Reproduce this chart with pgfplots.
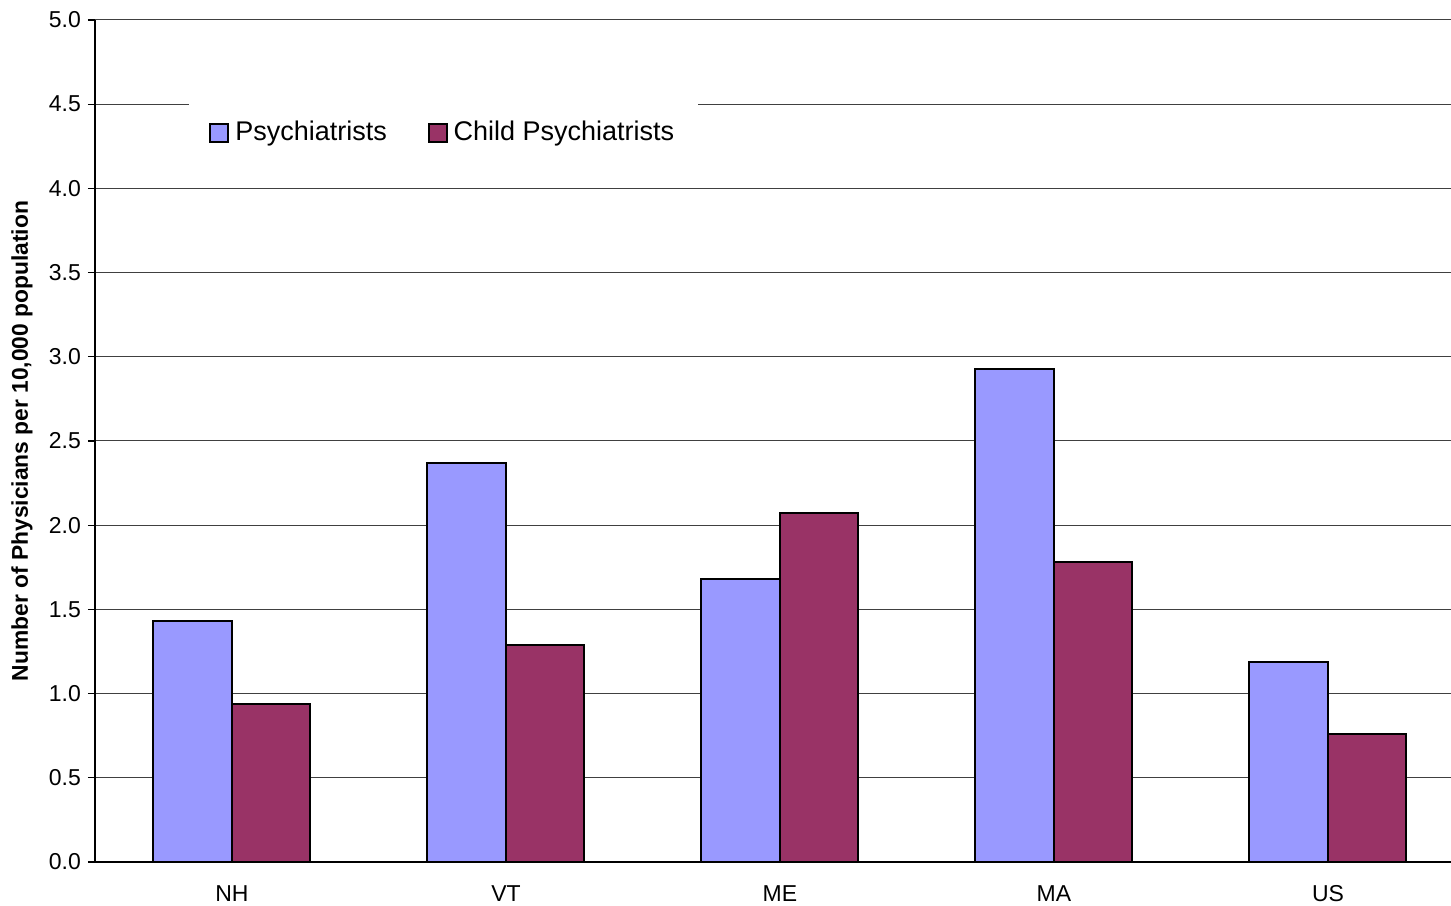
\documentclass[border=0pt]{standalone}
\usepackage{pgfplots}
\pgfplotsset{compat=1.18}
\usepackage{fontspec}
\setmainfont{Liberation Sans}
\definecolor{psych}{HTML}{9999FF}
\definecolor{child}{HTML}{993366}
\begin{document}
\begin{tikzpicture}
\begin{axis}[
  scale only axis,
  width=678pt, height=421pt,
  xmin=-0.5, xmax=4.449,
  ymin=0, ymax=5,
  ytick={0,0.5,...,5},
  xtick={0,1,2,3,4},
  xticklabels={NH,VT,ME,MA,US},
  minor xtick={-0.5,0.5,1.5,2.5,3.5},
  xtick style={draw=none},
  minor x tick style={black, line width=0.6pt},
  ytick style={black, line width=0.6pt},
  tick align=outside,
  major tick length=3.5pt,
  minor tick length=3.5pt,
  axis x line*=bottom,
  axis y line*=left,
  axis line style={black, line width=0.7pt},
  ymajorgrids,
  major grid style={black!75, line width=0.5pt},
  /pgf/number format/assume math mode=true,
  yticklabel style={/pgf/number format/.cd, fixed, fixed zerofill, precision=1},
  tick label style={font=\fontsize{11.5}{13}\selectfont},
  xticklabel style={yshift=-4.8pt},
  ylabel={Number of Physicians per 10,000 population},
  ylabel style={at={(axis description cs:-0.0538,0.5)}, anchor=center, font=\fontsize{11.4}{13}\selectfont\bfseries},
  ybar=0pt,
  bar width=39.25pt,
  legend columns=2,
  legend image code/.code={\draw[#1, line width=0.9pt] (0pt,-4.5pt) rectangle (9pt,4.5pt); \path (10pt,0pt);},
  legend style={draw=none, fill=white, at={(0.0693,0.911)}, anchor=north west,
    font=\fontsize{13.5}{15}\selectfont, inner xsep=10pt, inner ysep=11pt,
    /tikz/every even column/.append style={column sep=18.5pt}},
]
\addplot[fill=psych, draw=black, line width=1pt] coordinates {(0,1.43) (1,2.37) (2,1.68) (3,2.93) (4,1.19)};
\addplot[fill=child, draw=black, line width=1pt] coordinates {(0,0.94) (1,1.29) (2,2.07) (3,1.78) (4,0.76)};
\legend{Psychiatrists, Child Psychiatrists}
\end{axis}
\pgfresetboundingbox
\path[use as bounding box] (-47.5pt,-21.5pt) rectangle (678pt,431pt);
\end{tikzpicture}
\end{document}
